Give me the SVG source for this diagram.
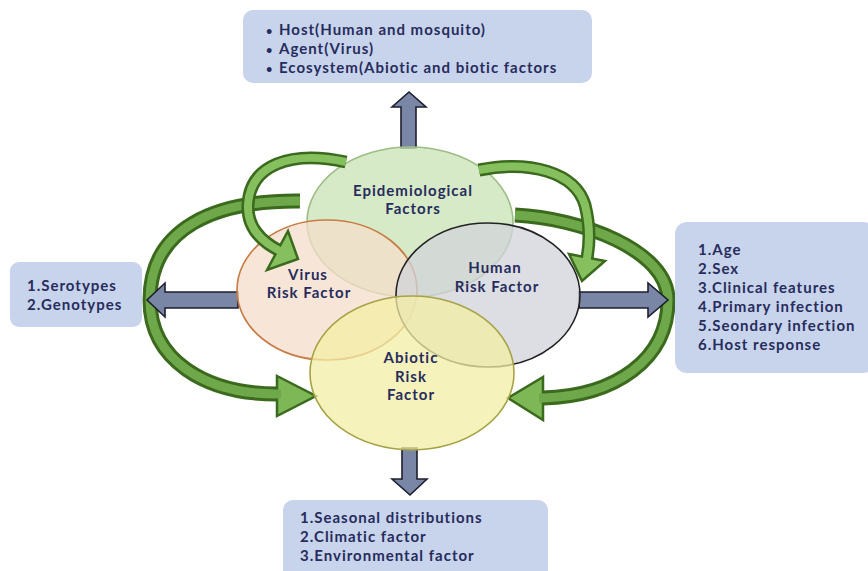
<svg xmlns="http://www.w3.org/2000/svg" width="868" height="571" viewBox="0 0 868 571">
<style>
.box{fill:#c8d4ec;}
.t{font-family:Lato,"Liberation Sans",sans-serif;font-weight:bold;font-size:15px;letter-spacing:1px;fill:#272c5c;}
.c{text-anchor:middle;}
.bul{font-size:11px;}
.bandD{fill:none;stroke:#3b6a1e;stroke-width:15;}
.bandL{fill:none;stroke:#6fa84a;stroke-width:9;}
.bandLs{fill:none;stroke:#86c05e;stroke-width:8;}
.bandDs{fill:none;stroke:#3b6a1e;stroke-width:13;}
.head{fill:#7db756;stroke:#3b6a1e;stroke-width:2.5;stroke-linejoin:miter;}
.heads{fill:#86c05e;stroke:#3b6a1e;stroke-width:2.5;stroke-linejoin:miter;}
.blue{fill:#7a86a6;stroke:#1d1f2e;stroke-width:1.6;stroke-linejoin:miter;}
.ell{stroke-width:1.6;}
</style>
<rect width="868" height="571" fill="#ffffff"/>

<g id="connectors">
  <g id="loop-left">
    <path class="bandD" d="M 300 201 C 215 200, 150 228, 150 300 C 150 360, 205 394, 277 394 L 281 394"/>
    <polygon class="head" points="277,376 316,396 277,416"/>
    <path class="bandL" d="M 300 201 C 215 200, 150 228, 150 300 C 150 360, 205 394, 277 394 L 281 394"/>
  </g>
  <g id="loop-right">
    <path class="bandD" d="M 515 215 C 580 218, 668 250, 668 300 C 668 360, 615 396, 543 398 L 539 398"/>
    <polygon class="head" points="543,377 508,398 543,420"/>
    <path class="bandL" d="M 515 215 C 580 218, 668 250, 668 300 C 668 360, 615 396, 543 398 L 539 398"/>
  </g>
  <polygon id="arrow-up" class="blue" points="401,148 401,107 392,107 409,92 426,107 416,107 416,148"/>
  <polygon id="arrow-down" class="blue" points="402,448 402,479 392,479 410,495 427,479 417,479 417,448"/>
  <polygon id="arrow-left" class="blue" points="238,292 165,292 165,283 147,300 165,317 165,308 238,308"/>
  <polygon id="arrow-right" class="blue" points="579,292 648,292 648,283 668,300 648,317 648,308 579,308"/>
</g>

<g id="node-epidemiological">
  <ellipse class="ell" cx="410" cy="222" rx="103" ry="75" fill="#cae3b6" fill-opacity="0.75" stroke="#9dbd84"/>
</g>
<g id="node-virus">
  <ellipse class="ell" cx="327" cy="290" rx="90" ry="70" fill="#f4ddcb" fill-opacity="0.75" stroke="#c77b45"/>
</g>
<g id="node-human">
  <ellipse class="ell" cx="488" cy="295" rx="92" ry="72" fill="#d2d3da" fill-opacity="0.75" stroke="#222222"/>
</g>
<g id="node-abiotic">
  <ellipse class="ell" cx="412" cy="373" rx="102" ry="77" fill="#f3eea4" fill-opacity="0.75" stroke="#a6a347"/>
</g>

<g id="connectors-small">
  <g id="curve-to-virus">
    <path class="bandDs" d="M 346 162 C 290 150, 250 165, 248 205 C 247 228, 262 242, 280 251 L 283 252.5"/>
    <polygon class="heads" points="267,270 288,231 298,259"/>
    <path class="bandLs" d="M 346 162 C 290 150, 250 165, 248 205 C 247 228, 262 242, 280 251 L 283 252.5"/>
  </g>
  <g id="curve-to-human">
    <path class="bandDs" d="M 479 170 C 530 160, 575 172, 585 205 C 590 225, 590 242, 587 258 L 586.5 261"/>
    <polygon class="heads" points="569,254 605,261 582,281"/>
    <path class="bandLs" d="M 479 170 C 530 160, 575 172, 585 205 C 590 225, 590 242, 587 258 L 586.5 261"/>
  </g>
</g>

<g id="labels-ellipses">
  <text class="t c" x="413" y="196">Epidemiological</text>
  <text class="t c" x="413" y="214">Factors</text>
  <text class="t c" x="308" y="280">Virus</text>
  <text class="t c" x="309" y="298">Risk Factor</text>
  <text class="t c" x="495" y="273">Human</text>
  <text class="t c" x="497" y="292">Risk Factor</text>
  <text class="t c" x="411" y="363">Abiotic</text>
  <text class="t c" x="411" y="382">Risk</text>
  <text class="t c" x="411" y="400">Factor</text>
</g>

<g id="box-top">
  <rect class="box" x="243" y="10" width="349" height="73" rx="10"/>
  <text class="t" y="35"><tspan class="bul" x="266">•</tspan><tspan x="279">Host(Human and mosquito)</tspan></text>
  <text class="t" y="54"><tspan class="bul" x="266">•</tspan><tspan x="279">Agent(Virus)</tspan></text>
  <text class="t" y="73"><tspan class="bul" x="266">•</tspan><tspan x="279">Ecosystem(Abiotic and biotic factors</tspan></text>
</g>
<g id="box-left">
  <rect class="box" x="10" y="262" width="132" height="65" rx="9"/>
  <text class="t" x="27" y="291">1.Serotypes</text>
  <text class="t" x="27" y="310">2.Genotypes</text>
</g>
<g id="box-right">
  <rect class="box" x="675" y="222" width="200" height="151" rx="12"/>
  <text class="t" x="698" y="255">1.Age</text>
  <text class="t" x="698" y="274">2.Sex</text>
  <text class="t" x="698" y="293">3.Clinical features</text>
  <text class="t" x="698" y="312">4.Primary infection</text>
  <text class="t" x="698" y="331">5.Seondary infection</text>
  <text class="t" x="698" y="350">6.Host response</text>
</g>
<g id="box-bottom">
  <rect class="box" x="283" y="500" width="265" height="80" rx="10"/>
  <text class="t" x="300" y="523">1.Seasonal distributions</text>
  <text class="t" x="300" y="542">2.Climatic factor</text>
  <text class="t" x="300" y="561">3.Environmental factor</text>
</g>
</svg>
